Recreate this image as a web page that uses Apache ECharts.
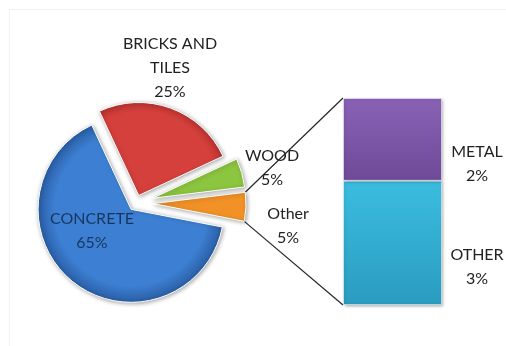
<!DOCTYPE html>
<html>
<head>
<meta charset="utf-8">
<script src="https://cdn.jsdelivr.net/npm/echarts@6/dist/echarts.min.js"></script>
<style>
  html, body { margin: 0; padding: 0; background: #fff; }
  #chart { width: 506px; height: 346px; }
</style>
</head>
<body>
<div id="chart"></div>
<script>
// Waste composition: main pie plus a stacked column breaking down the "Other" slice
const categories = ['BRICKS AND\nTILES', 'WOOD', 'Other', 'CONCRETE'];
const shares = [25, 5, 5, 65];
const breakdownNames = ['OTHER', 'METAL'];
const breakdownValues = [3, 2];

const sliceColors = ['#d5403c', '#8cc540', '#f29226', '#3d80d3'];
const sliceDark = ['#a82a28', '#6a9a2a', '#c86d12', '#2a5ea6'];
const barColors = [['#3bbde0', '#2a9cc0'], ['#8962b6', '#6e4a98']];

const FONT = 'Lato, "Open Sans", sans-serif';
const TEXT_COLOR = '#222222';
const PIE_CENTER = [136, 203];
const PIE_R = 93;
const START = 115;
// explode distance per slice (bricks, wood, other, concrete)
const explode = [8, 17, 17, 0];
// label anchor points for the pie slices
const pieLabelPos = [[170, 68], [272, 168], [288, 226], [92, 231]];

const GRID = { left: 343, top: 98, width: 99, height: 207 };

const total = shares.reduce((a, b) => a + b, 0);

function sliceAngles(i) {
  let before = 0;
  for (let k = 0; k < i; k++) before += shares[k];
  const a0 = START - before / total * 360;
  const a1 = a0 - shares[i] / total * 360;
  return [a0, a1];
}
function sliceCenter(i) {
  const [a0, a1] = sliceAngles(i);
  const mid = (a0 + a1) / 2 * Math.PI / 180;
  return [PIE_CENTER[0] + explode[i] * Math.cos(mid), PIE_CENTER[1] - explode[i] * Math.sin(mid)];
}
function sliceFill(i) {
  const c = sliceCenter(i);
  return {
    type: 'radial', x: c[0], y: c[1], r: PIE_R, global: true,
    colorStops: [
      { offset: 0, color: sliceColors[i] },
      { offset: 0.82, color: sliceColors[i] },
      { offset: 1, color: sliceDark[i] }
    ]
  };
}

// Each pie layer draws only the slices that share one explode distance
function pieLayer(visibleIdx, offset) {
  return {
    type: 'pie',
    center: PIE_CENTER,
    radius: PIE_R,
    startAngle: START,
    clockwise: true,
    selectedMode: 'multiple',
    selectedOffset: offset,
    animation: false,
    silent: true,
    label: { show: false },
    labelLine: { show: false },
    emphasis: { disabled: true },
    data: categories.map((name, i) => {
      const on = visibleIdx.includes(i);
      return {
        name: name,
        value: shares[i],
        selected: on && offset > 0,
        itemStyle: on ? {
          color: sliceFill(i),
          borderColor: '#ffffff',
          borderWidth: 1,
          shadowBlur: 4,
          shadowColor: 'rgba(0,0,0,0.35)',
          shadowOffsetX: 1,
          shadowOffsetY: 1
        } : { color: 'rgba(0,0,0,0)', borderWidth: 0 }
      };
    })
  };
}

const chart = echarts.init(document.getElementById('chart'), null, { renderer: 'canvas' });

const option = {
  backgroundColor: '#ffffff',
  animation: false,
  grid: { left: GRID.left, top: GRID.top, width: GRID.width, height: GRID.height, containLabel: false },
  xAxis: { type: 'category', data: ['Other'], show: false },
  yAxis: { type: 'value', min: 0, max: breakdownValues.reduce((a, b) => a + b, 0), show: false },
  series: [
    pieLayer([3, 0], 8),
    pieLayer([1, 2], 17)
  ].concat(breakdownNames.map((name, k) => ({
    type: 'bar',
    name: name,
    stack: 'other',
    barWidth: '100%',
    animation: false,
    silent: true,
    data: [breakdownValues[k]],
    itemStyle: {
      color: { type: 'linear', x: 0, y: 0, x2: 0, y2: 1,
        colorStops: [{ offset: 0, color: barColors[k][0] }, { offset: 1, color: barColors[k][1] }] },
      borderColor: 'rgba(255,255,255,0.5)',
      borderWidth: 1,
      shadowBlur: 3,
      shadowColor: 'rgba(0,0,0,0.3)',
      shadowOffsetX: 1,
      shadowOffsetY: 1
    },
    label: {
      show: true,
      position: 'right',
      formatter: p => p.seriesName + '\n' + p.value + '%',
      fontFamily: FONT,
      fontSize: 16,
      lineHeight: 24,
      color: TEXT_COLOR
    },
    labelLayout: p => ({ x: p.rect.x + p.rect.width + 35, align: 'center' })
  })))
};

chart.setOption(option);

// Connector lines from the "Other" slice rim to the breakdown column
const [oa0, oa1] = sliceAngles(2);
const oc = sliceCenter(2);
const rim = a => [oc[0] + PIE_R * Math.cos(a * Math.PI / 180), oc[1] - PIE_R * Math.sin(a * Math.PI / 180)];
const pTop = rim(oa0);
const pBot = rim(oa1);
const yTop = chart.convertToPixel({ yAxisIndex: 0 }, option.yAxis.max);
const yBot = chart.convertToPixel({ yAxisIndex: 0 }, 0);

// Slice labels: name and share of the whole pie
const pieLabels = categories.map((name, i) => ({
  type: 'text',
  silent: true,
  z: 10,
  style: {
    text: name + '\n' + Math.round(shares[i] / total * 100) + '%',
    x: pieLabelPos[i][0],
    y: pieLabelPos[i][1],
    align: 'center',
    verticalAlign: 'middle',
    fontFamily: FONT,
    fontSize: 16,
    lineHeight: 24,
    fill: i === 3 ? '#17365f' : TEXT_COLOR
  }
}));

chart.setOption({
  graphic: [
    { type: 'rect', shape: { x: 9.5, y: 9.5, width: 520, height: 360 }, style: { fill: 'none', stroke: '#f1f1f1', lineWidth: 1 }, silent: true, z: -1 },
    { type: 'line', shape: { x1: pTop[0], y1: pTop[1], x2: GRID.left, y2: yTop }, style: { stroke: '#262626', lineWidth: 1.2 }, silent: true },
    { type: 'line', shape: { x1: pBot[0], y1: pBot[1], x2: GRID.left, y2: yBot }, style: { stroke: '#262626', lineWidth: 1.2 }, silent: true }
  ].concat(pieLabels)
});
</script>
</body>
</html>
